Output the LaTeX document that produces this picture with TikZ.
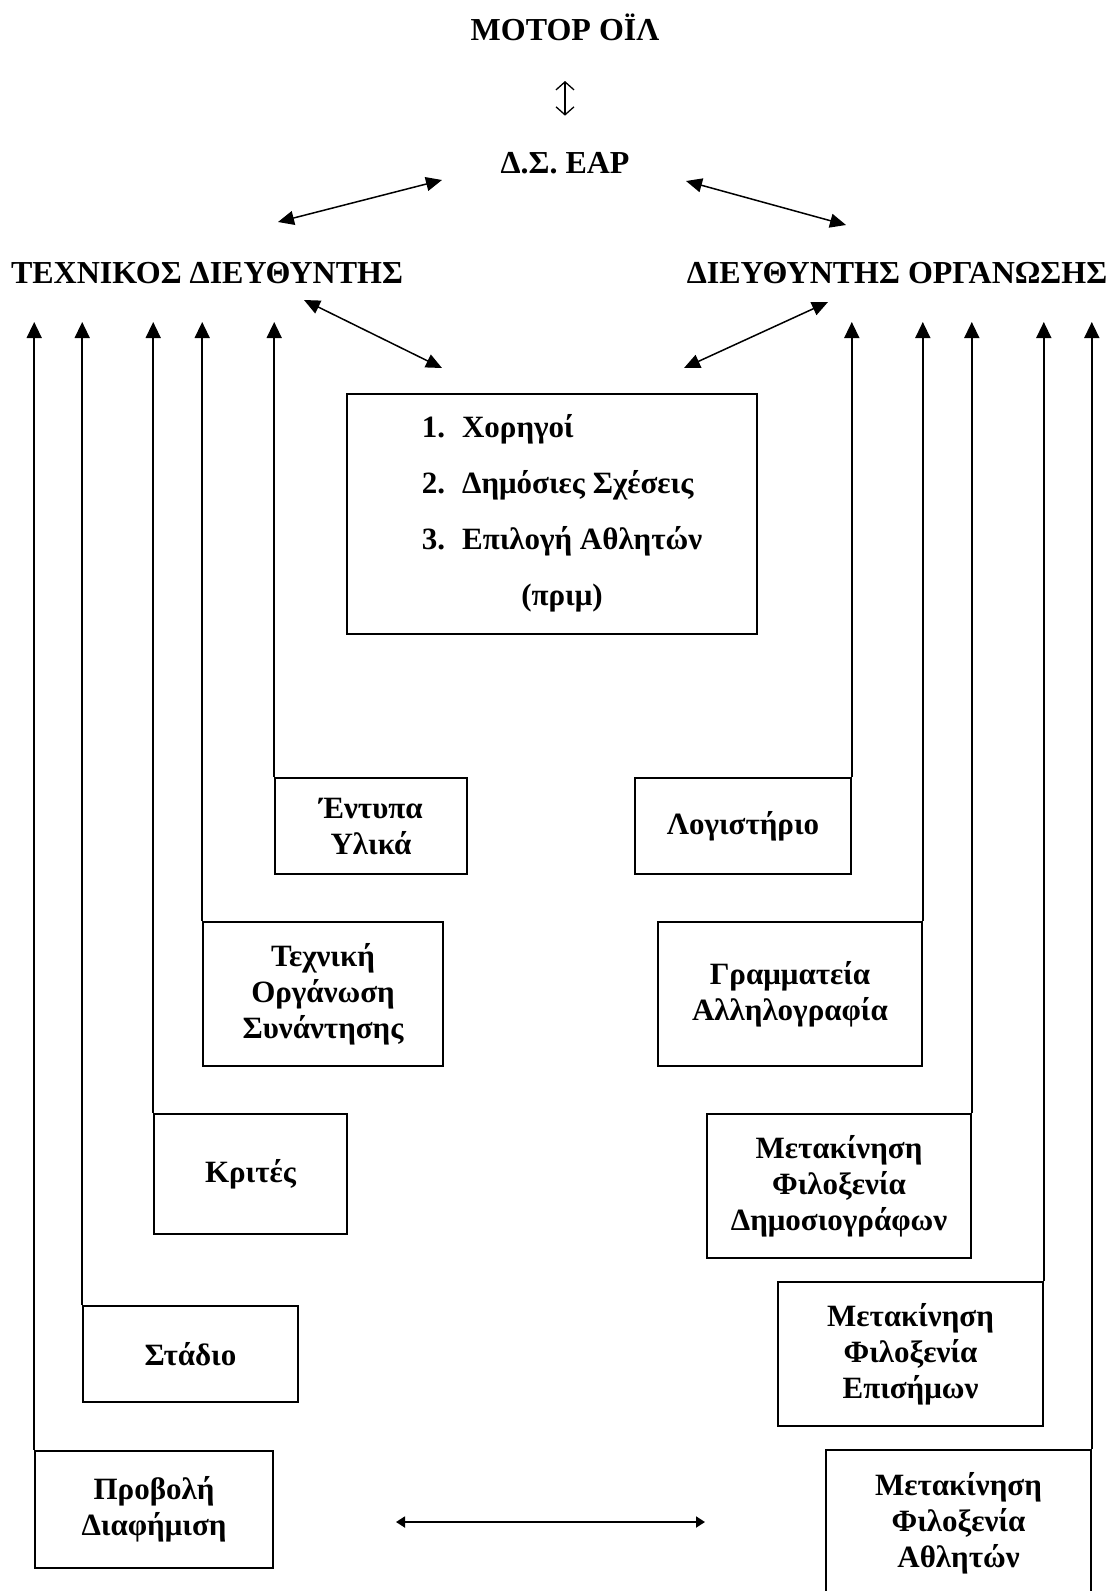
\documentclass[tikz,border=0pt]{standalone}
\usepackage{fontspec}
\setmainfont{Liberation Serif}
\usetikzlibrary{arrows.meta}

\begin{document}
\begin{tikzpicture}[x=1pt,y=-1pt,
  every node/.style={font=\fontsize{31}{36}\selectfont\bfseries},
  head/.style={font=\fontsize{32}{36}\selectfont\bfseries},
  box/.style={draw,line width=1.6pt,align=center,inner sep=0pt},
  uparrow/.style={line width=1.5pt,-{Triangle[length=16pt,width=15pt]}},
  biarrow/.style={line width=1.5pt,{Triangle[length=16pt,width=14pt]}-{Triangle[length=16pt,width=14pt]}},
  smallbi/.style={line width=1.8pt,{Triangle[length=9pt,width=11pt]}-{Triangle[length=9pt,width=11pt]}}]
\useasboundingbox (0,0) rectangle (1115,1591);
\clip (0,0) rectangle (1115,1591);

% top of the chart
\node[head] (motor) at (565,27) {ΜΟΤΟΡ ΟΪΛ};
\node[head] (ds) at (565,163) {Δ.Σ. ΕΑΡ};
\node[head] (tech) at (207,273) {ΤΕΧΝΙΚΟΣ ΔΙΕΥΘΥΝΤΗΣ};
\node[head] (org) at (897,273) {ΔΙΕΥΘΥΝΤΗΣ ΟΡΓΑΝΩΣΗΣ};
\draw[line width=1.3pt,{Straight Barb[length=8pt,width=18pt]}-{Straight Barb[length=8pt,width=18pt]},
  shorten <=37pt,shorten >=33pt] (motor) -- (ds);

\coordinate (ul1) at (278,222); \coordinate (ul2) at (442,180);
\coordinate (ur1) at (686,181); \coordinate (ur2) at (846,225);
\coordinate (ll1) at (304,300); \coordinate (ll2) at (442,368);
\coordinate (lr1) at (828,302); \coordinate (lr2) at (684,368);
\draw[biarrow] (ul1) -- (ul2);
\draw[biarrow] (ur1) -- (ur2);
\draw[biarrow] (ll1) -- (ll2);
\draw[biarrow] (lr1) -- (lr2);

% middle box
\node[box,minimum width=410pt,minimum height=240pt] (prog) at (552,514)
  {\begin{tabular}{@{\hspace{20pt}}l@{\hspace{17pt}}l@{}}
   1. & Χορηγοί\\[20pt]
   2. & Δημόσιες Σχέσεις\\[20pt]
   3. & Επιλογή Αθλητών\\[20pt]
   \multicolumn{2}{@{\hspace{20pt}}c@{}}{(πριμ)}
   \end{tabular}};

% left column
\node[box,minimum width=192pt,minimum height=96pt] (entypa) at (371,826) {Έντυπα\\Υλικά};
\node[box,minimum width=240pt,minimum height=144pt] (texniki) at (323,994) {Τεχνική\\Οργάνωση\\Συνάντησης};
\node[box,minimum width=193pt,minimum height=120pt] (krites) at (250.5,1174) {Κριτές};
\node[box,minimum width=215pt,minimum height=96pt] (stadio) at (190.5,1354) {Στάδιο};
\node[box,minimum width=238pt,minimum height=117pt] (provol) at (154,1509.5) {Προβολή\\Διαφήμιση};

% right column
\node[box,minimum width=216pt,minimum height=96pt] (logist) at (743,826) {Λογιστήριο};
\node[box,minimum width=264pt,minimum height=144pt] (gramm) at (790,994) {Γραμματεία\\Αλληλογραφία};
\node[box,minimum width=264pt,minimum height=144pt] (dimos) at (839,1186) {Μετακίνηση\\Φιλοξενία\\Δημοσιογράφων};
\node[box,minimum width=265pt,minimum height=144pt] (episim) at (910.5,1354) {Μετακίνηση\\Φιλοξενία\\Επισήμων};
\node[box,minimum width=265pt,minimum height=146pt] (athl) at (958.5,1523) {Μετακίνηση\\Φιλοξενία\\Αθλητών};

% lines up to the two directors
\coordinate (tiprow) at (0,322);
\foreach \b in {entypa,texniki,krites,stadio,provol}
  \draw[uparrow] (\b.north west) -- (\b.north west |- tiprow);
\foreach \b in {logist,gramm,dimos,episim,athl}
  \draw[uparrow] (\b.north east) -- (\b.north east |- tiprow);

\coordinate (bl) at (396,1522); \coordinate (br) at (705,1522);
\draw[smallbi] (bl) -- (br);
\end{tikzpicture}
\end{document}
